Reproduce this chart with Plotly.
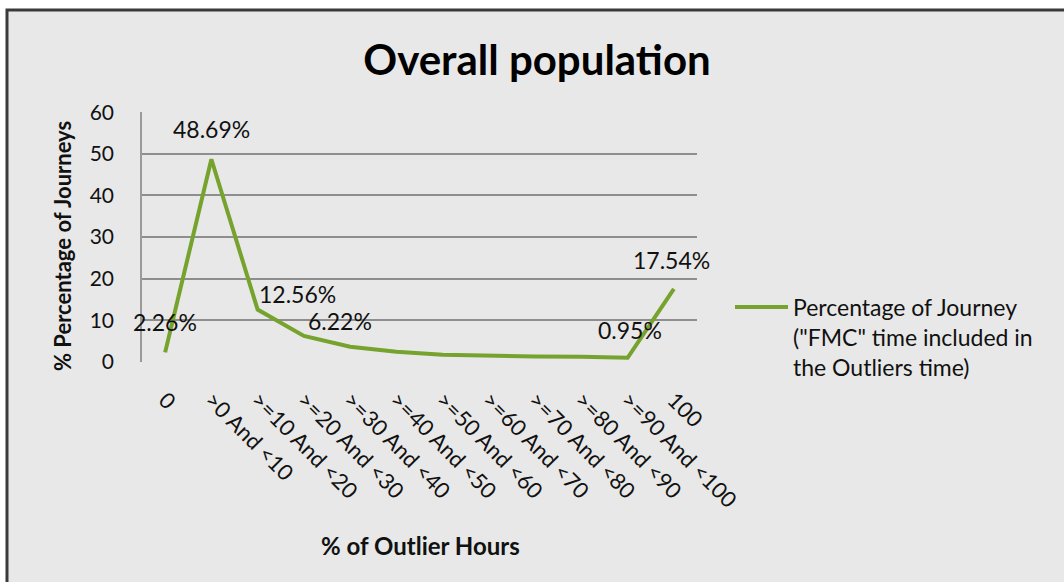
import plotly.graph_objects as go

# Share of journeys per band of outlier hours
categories = ["0", ">0 And <10", ">=10 And <20", ">=20 And <30", ">=30 And <40",
              ">=40 And <50", ">=50 And <60", ">=60 And <70", ">=70 And <80",
              ">=80 And <90", ">=90 And <100", "100"]
journey_pct = [2.26, 48.69, 12.56, 6.22, 3.6, 2.4, 1.7, 1.4, 1.3, 1.2, 0.95, 17.54]
labelled = [0, 1, 2, 3, 10, 11]
y_ticks = [0, 10, 20, 30, 40, 50, 60]

series_name = 'Percentage of Journey<br>("FMC" time included in<br>the Outliers time)'

W, H = 1064, 582
L, R, T, B = 142, 697, 112, 362
FONT = "Lato"
GREEN = "#76a22e"
BG = "#e8e8e8"


def px(x):
    return (x - L) / (R - L)


def py(y):
    return (B - y) / (B - T)


fig = go.Figure()
fig.add_trace(go.Scatter(
    x=categories, y=journey_pct, mode="lines",
    line=dict(color=GREEN, width=4),
    name=series_name, showlegend=False,
))

# per-label nudges (pixels) for the value labels
shifts = {0: (0, 30), 1: (0, 30), 2: (40, 16), 3: (36, 15), 10: (2, 28), 11: (-2, 29)}
annotations = []
for i in labelled:
    dx, dy = shifts[i]
    annotations.append(dict(
        x=i, y=journey_pct[i], xref="x", yref="y",
        text=f"{journey_pct[i]:.2f}%", showarrow=False,
        xshift=dx, yshift=dy, font=dict(family=FONT, size=23, color="#111"),
    ))

# axis titles
annotations.append(dict(
    x=px(62), y=py(246), xref="paper", yref="paper", text="<b>% Percentage of Journeys</b>",
    xanchor="center", yanchor="middle",
    textangle=-90, showarrow=False, font=dict(family=FONT, size=22, color="#111"),
))
annotations.append(dict(
    x=px(420), y=py(545), xref="paper", yref="paper", text="<b>% of Outlier Hours</b>",
    xanchor="center", yanchor="middle",
    showarrow=False, font=dict(family=FONT, size=24, color="#111"),
))
# legend entry
annotations.append(dict(
    x=px(791), y=py(307), xref="paper", yref="paper", text=series_name,
    showarrow=False, xanchor="left", yanchor="top", yshift=16, align="left",
    font=dict(family=FONT, size=23, color="#111"),
))

shapes = [
    dict(type="rect", xref="paper", yref="paper", layer="below",
         x0=px(7), x1=px(W + 10), y0=py(H + 10), y1=py(10),
         line=dict(color="#3a3a3a", width=3), fillcolor=BG),
    dict(type="line", xref="paper", yref="paper",
         x0=px(735), x1=px(788), y0=py(307), y1=py(307),
         line=dict(color=GREEN, width=4)),
]

fig.update_layout(
    width=W, height=H,
    margin=dict(l=L, r=W - R, t=T, b=H - B, autoexpand=False),
    paper_bgcolor="white", plot_bgcolor=BG,
    title=dict(text="<b>Overall population</b>", x=537 / W, y=1 - 60 / H,
               xanchor="center", yanchor="middle", xref="container", yref="container",
               font=dict(family=FONT, size=42, color="#000")),
    font=dict(family=FONT, color="#111"),
    annotations=annotations, shapes=shapes, showlegend=False,
)
fig.update_xaxes(
    type="category", range=[-0.5, len(categories) - 0.5],
    tickmode="array", tickvals=list(range(len(categories))), ticktext=categories,
    tickangle=45, showgrid=False, showline=False,
    tickfont=dict(family=FONT, size=22, color="#111"), ticklabelstandoff=20,
    zeroline=False,
)
fig.update_yaxes(
    range=[-0.05, 60.05], tickvals=y_ticks, showgrid=True, gridcolor="#8e8e8e", gridwidth=1.5,
    showline=True, linecolor="#9a9a9a", linewidth=1.5, zeroline=False,
    tickfont=dict(family=FONT, size=21, color="#111"), ticklabelstandoff=22,
)

fig.write_html("out.html")
